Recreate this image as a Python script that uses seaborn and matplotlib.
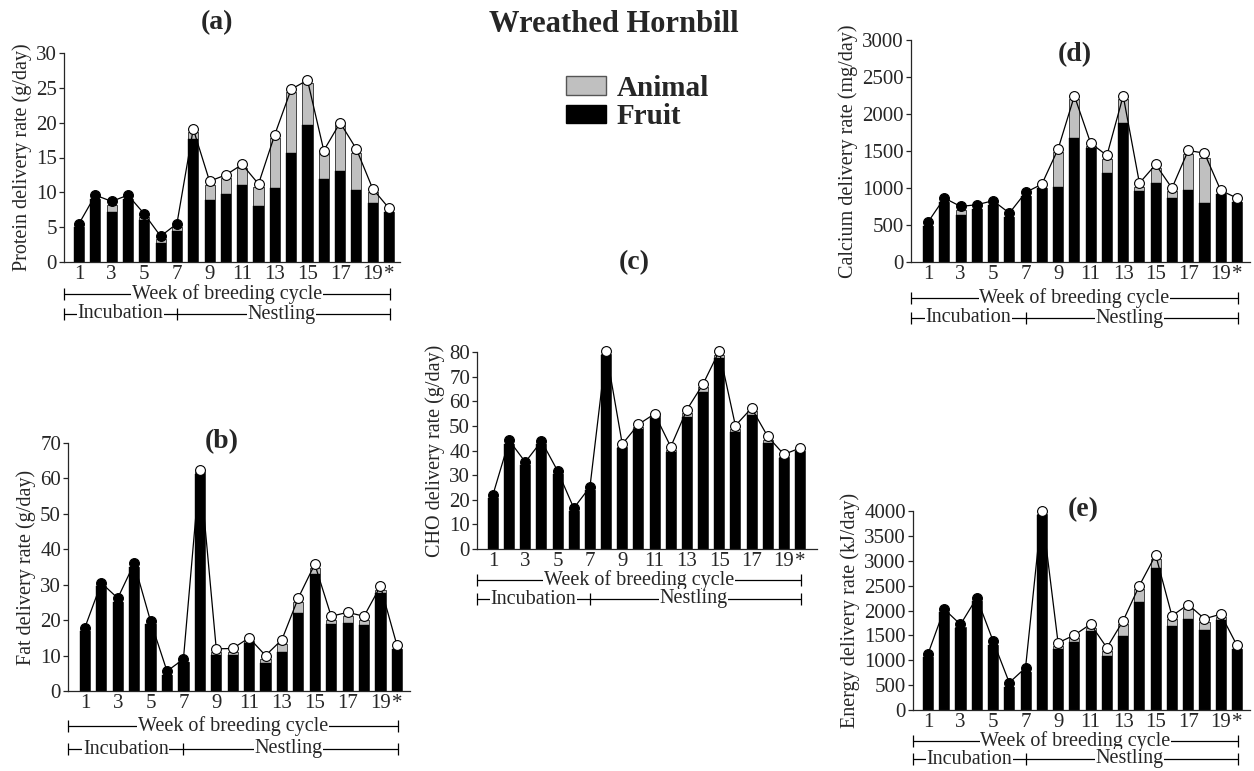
import matplotlib
matplotlib.use('Agg')
import matplotlib.pyplot as plt
import seaborn as sns
import numpy as np
import pandas as pd
from matplotlib.patches import Patch
from matplotlib import transforms

# ---------------- data ----------------
weeks = list(range(1, 21))
tick_pos = [1, 3, 5, 7, 9, 11, 13, 15, 17, 19, 20]
tick_labels = ['1', '3', '5', '7', '9', '11', '13', '15', '17', '19', '*']

# (a) Protein (g/day)
protein_fruit = [5.0, 9.0, 7.2, 9.0, 6.1, 2.7, 4.5, 17.6, 8.9, 9.7, 11.05, 8.0, 10.6, 15.7, 19.7, 11.9, 13.1, 10.4, 8.5, 7.2]
protein_total = [5.0, 9.0, 8.2, 9.0, 6.4, 3.3, 5.0, 18.7, 11.05, 12.0, 13.5, 10.7, 17.8, 24.4, 25.7, 15.6, 19.7, 15.7, 10.0, 7.2]
protein_line = [5.5, 9.6, 8.7, 9.6, 6.9, 3.7, 5.5, 19.1, 11.6, 12.5, 14.0, 11.2, 18.3, 24.8, 26.1, 16.0, 20.0, 16.2, 10.5, 7.7]

# (b) Fat (g/day)
fat_fruit = [16.9, 29.6, 25.2, 35.1, 18.8, 4.5, 8.1, 61.2, 10.2, 10.2, 13.6, 7.8, 11.1, 21.9, 33.0, 18.9, 19.3, 18.6, 27.7, 11.8]
fat_total = [16.9, 29.6, 25.2, 35.1, 18.8, 4.5, 8.1, 61.7, 10.9, 10.9, 14.2, 8.9, 13.4, 25.2, 34.6, 20.0, 21.2, 20.0, 28.5, 11.8]
fat_line = [17.9, 30.5, 26.2, 36.0, 19.7, 5.6, 9.0, 62.5, 11.9, 12.0, 15.0, 10.0, 14.5, 26.3, 35.8, 21.1, 22.2, 21.1, 29.6, 13.0]

# (c) CHO (g/day)
cho_fruit = [20.7, 42.8, 34.0, 42.8, 30.4, 15.6, 24.1, 78.6, 41.0, 48.7, 53.2, 39.4, 53.6, 63.6, 77.5, 47.4, 54.3, 43.0, 36.9, 39.6]
cho_total = [20.7, 42.8, 34.0, 42.8, 30.4, 15.6, 24.1, 79.3, 41.4, 49.5, 53.9, 40.3, 55.2, 65.6, 78.9, 48.7, 55.9, 44.4, 37.3, 39.6]
cho_line = [22.1, 44.1, 35.3, 43.8, 31.7, 16.6, 25.2, 80.4, 42.6, 50.6, 54.9, 41.5, 56.6, 67.0, 80.4, 50.1, 57.2, 45.7, 38.4, 41.0]

# (d) Calcium (mg/day)
calcium_fruit = [490, 810, 630, 720, 765, 607, 895, 998, 1007, 1673, 1534, 1200, 1885, 963, 1066, 864, 976, 796, 913, 814]
calcium_total = [490, 810, 697, 720, 765, 607, 895, 998, 1480, 2200, 1561, 1390, 2200, 1012, 1268, 954, 1457, 1412, 913, 814]
calcium_line = [540, 864, 751, 774, 828, 661, 940, 1052, 1529, 2245, 1606, 1440, 2245, 1066, 1318, 998, 1507, 1471, 967, 864]

# (e) Energy (kJ/day)
energy_fruit = [1057, 1960, 1639, 2187, 1304, 468, 769, 3913, 1217, 1371, 1585, 1084, 1485, 2161, 2856, 1692, 1839, 1605, 1806, 1224]
energy_total = [1057, 1960, 1660, 2187, 1304, 468, 769, 3947, 1284, 1445, 1652, 1184, 1726, 2441, 3043, 1826, 2040, 1759, 1860, 1224]
energy_line = [1124, 2027, 1719, 2254, 1391, 549, 850, 4000, 1351, 1505, 1726, 1251, 1793, 2502, 3117, 1893, 2120, 1833, 1926, 1298]

n_incubation = 7  # weeks with filled markers

# ---------------- style ----------------
sns.set_style('ticks')
plt.rcParams['font.family'] = ['Liberation Serif', 'DejaVu Serif']
plt.rcParams['axes.linewidth'] = 0.9

W, H = 1254, 771
fig = plt.figure(figsize=(W / 100, H / 100), dpi=100)

GRAY = '#c0c0c0'
TICK_FS = 15
BRACKET_FS = 14.5
LABEL_FS = 14.5
TITLE_FS = 20


def make_ax(l, r, t, b):
    return fig.add_axes([l / W, 1 - b / H, (r - l) / W, (b - t) / H])


def panel(ax, fruit, total, line, ymax, ystep, ylabel, xlim, week_y, inc_y, bracket_right=20.05):
    df = pd.DataFrame({'week': weeks, 'fruit': fruit, 'total': total, 'line': line})
    sns.barplot(data=df, x='week', y='total', native_scale=True, width=0.62, color=GRAY,
                saturation=1, edgecolor='#444444', linewidth=0.7, errorbar=None, ax=ax)
    sns.barplot(data=df, x='week', y='fruit', native_scale=True, width=0.62, color='black',
                saturation=1, edgecolor='black', linewidth=0.3, errorbar=None, ax=ax)
    sns.lineplot(data=df, x='week', y='line', color='black', linewidth=0.9, ax=ax, zorder=4)
    inc = df.iloc[:n_incubation]
    nst = df.iloc[n_incubation:]
    sns.scatterplot(data=inc, x='week', y='line', s=50, color='black', edgecolor='black',
                    linewidth=0.8, ax=ax, zorder=5, clip_on=False)
    sns.scatterplot(data=nst, x='week', y='line', s=50, color='white', edgecolor='black',
                    linewidth=0.8, ax=ax, zorder=5, clip_on=False)
    ax.set_xlim(*xlim)
    ax.set_ylim(0, ymax)
    ax.set_yticks(np.arange(0, ymax + ystep / 2, ystep))
    ax.set_xticks(tick_pos)
    ax.set_xticklabels(tick_labels)
    ax.tick_params(axis='x', length=0, pad=2.5, labelsize=TICK_FS)
    ax.tick_params(axis='y', length=3.5, width=0.9, pad=1.5, direction='out', labelsize=TICK_FS)
    ax.set_xlabel('')
    ax.set_ylabel(ylabel, fontsize=LABEL_FS, labelpad=3)
    for s in ['top', 'right']:
        ax.spines[s].set_visible(False)

    tr = transforms.blended_transform_factory(ax.transData, fig.transFigure)
    x0 = xlim[0]
    box = dict(facecolor='white', edgecolor='none', pad=0.5)
    # week bracket
    yw = 1 - week_y / H
    ax.plot([x0, bracket_right], [yw, yw], color='black', lw=0.9, transform=tr, clip_on=False,
            zorder=0.1)
    ax.plot([x0, bracket_right], [yw, yw], ls='none', marker='|', ms=9, mew=0.9, color='black',
            transform=tr, clip_on=False, zorder=0.1)
    ax.text((x0 + bracket_right) / 2, yw, 'Week of breeding cycle', ha='center', va='center',
            fontsize=BRACKET_FS, transform=tr, bbox=box, zorder=0.3)
    # incubation / nestling bracket
    yi = 1 - inc_y / H
    ax.plot([x0, bracket_right], [yi, yi], color='black', lw=0.9, transform=tr, clip_on=False,
            zorder=0.1)
    ax.plot([x0, n_incubation, bracket_right], [yi, yi, yi], ls='none', marker='|', ms=9, mew=0.9,
            color='black', transform=tr, clip_on=False, zorder=0.1)
    ax.text((x0 + n_incubation) / 2, yi, 'Incubation', ha='center', va='center',
            fontsize=BRACKET_FS, transform=tr, bbox=box, zorder=0.3)
    ax.text(13.4, yi, 'Nestling', ha='center', va='center',
            fontsize=BRACKET_FS, transform=tr, bbox=box, zorder=0.3)


ax_a = make_ax(64, 400, 53, 262)
panel(ax_a, protein_fruit, protein_total, protein_line, 30, 5, 'Protein delivery rate (g/day)',
      (0.08, 20.67), 294, 314)

ax_b = make_ax(68, 410, 443, 691)
panel(ax_b, fat_fruit, fat_total, fat_line, 70, 10, 'Fat delivery rate (g/day)',
      (-0.03, 20.8), 726, 749)

ax_c = make_ax(477, 817, 352, 549)
panel(ax_c, cho_fruit, cho_total, cho_line, 80, 10, 'CHO delivery rate (g/day)',
      (0.01, 21.05), 580, 599)

ax_d = make_ax(911, 1250, 40, 262)
panel(ax_d, calcium_fruit, calcium_total, calcium_line, 3000, 500, 'Calcium delivery rate (mg/day)',
      (-0.05, 20.8), 298, 318)

ax_e = make_ax(913, 1250, 511, 710)
panel(ax_e, energy_fruit, energy_total, energy_line, 4000, 500, 'Energy delivery rate (kJ/day)',
      (0.08, 20.8), 741, 759)

# panel letters
for lbl, (px, py) in {'(a)': (217, 23), '(b)': (222, 442), '(c)': (634, 263),
                      '(d)': (1075, 55), '(e)': (1083, 510)}.items():
    fig.text(px / W, 1 - py / H, lbl, ha='center', va='center', fontsize=TITLE_FS, fontweight='bold')

fig.text(614 / W, 1 - 24 / H, 'Wreathed Hornbill', ha='center', va='center', fontsize=22,
         fontweight='bold')

handles = [Patch(facecolor=GRAY, edgecolor='#555555', linewidth=1.0),
           Patch(facecolor='black', edgecolor='black')]
fig.legend(handles, ['Animal', 'Fruit'], loc='upper left', bbox_to_anchor=(566 / W, 1 - 75 / H),
           frameon=False, prop={'family': 'Liberation Serif', 'weight': 'bold', 'size': 21},
           handlelength=1.37, handleheight=0.6, handletextpad=0.38, labelspacing=0.05,
           borderpad=0, borderaxespad=0)

fig.savefig('out.png', dpi=100)
